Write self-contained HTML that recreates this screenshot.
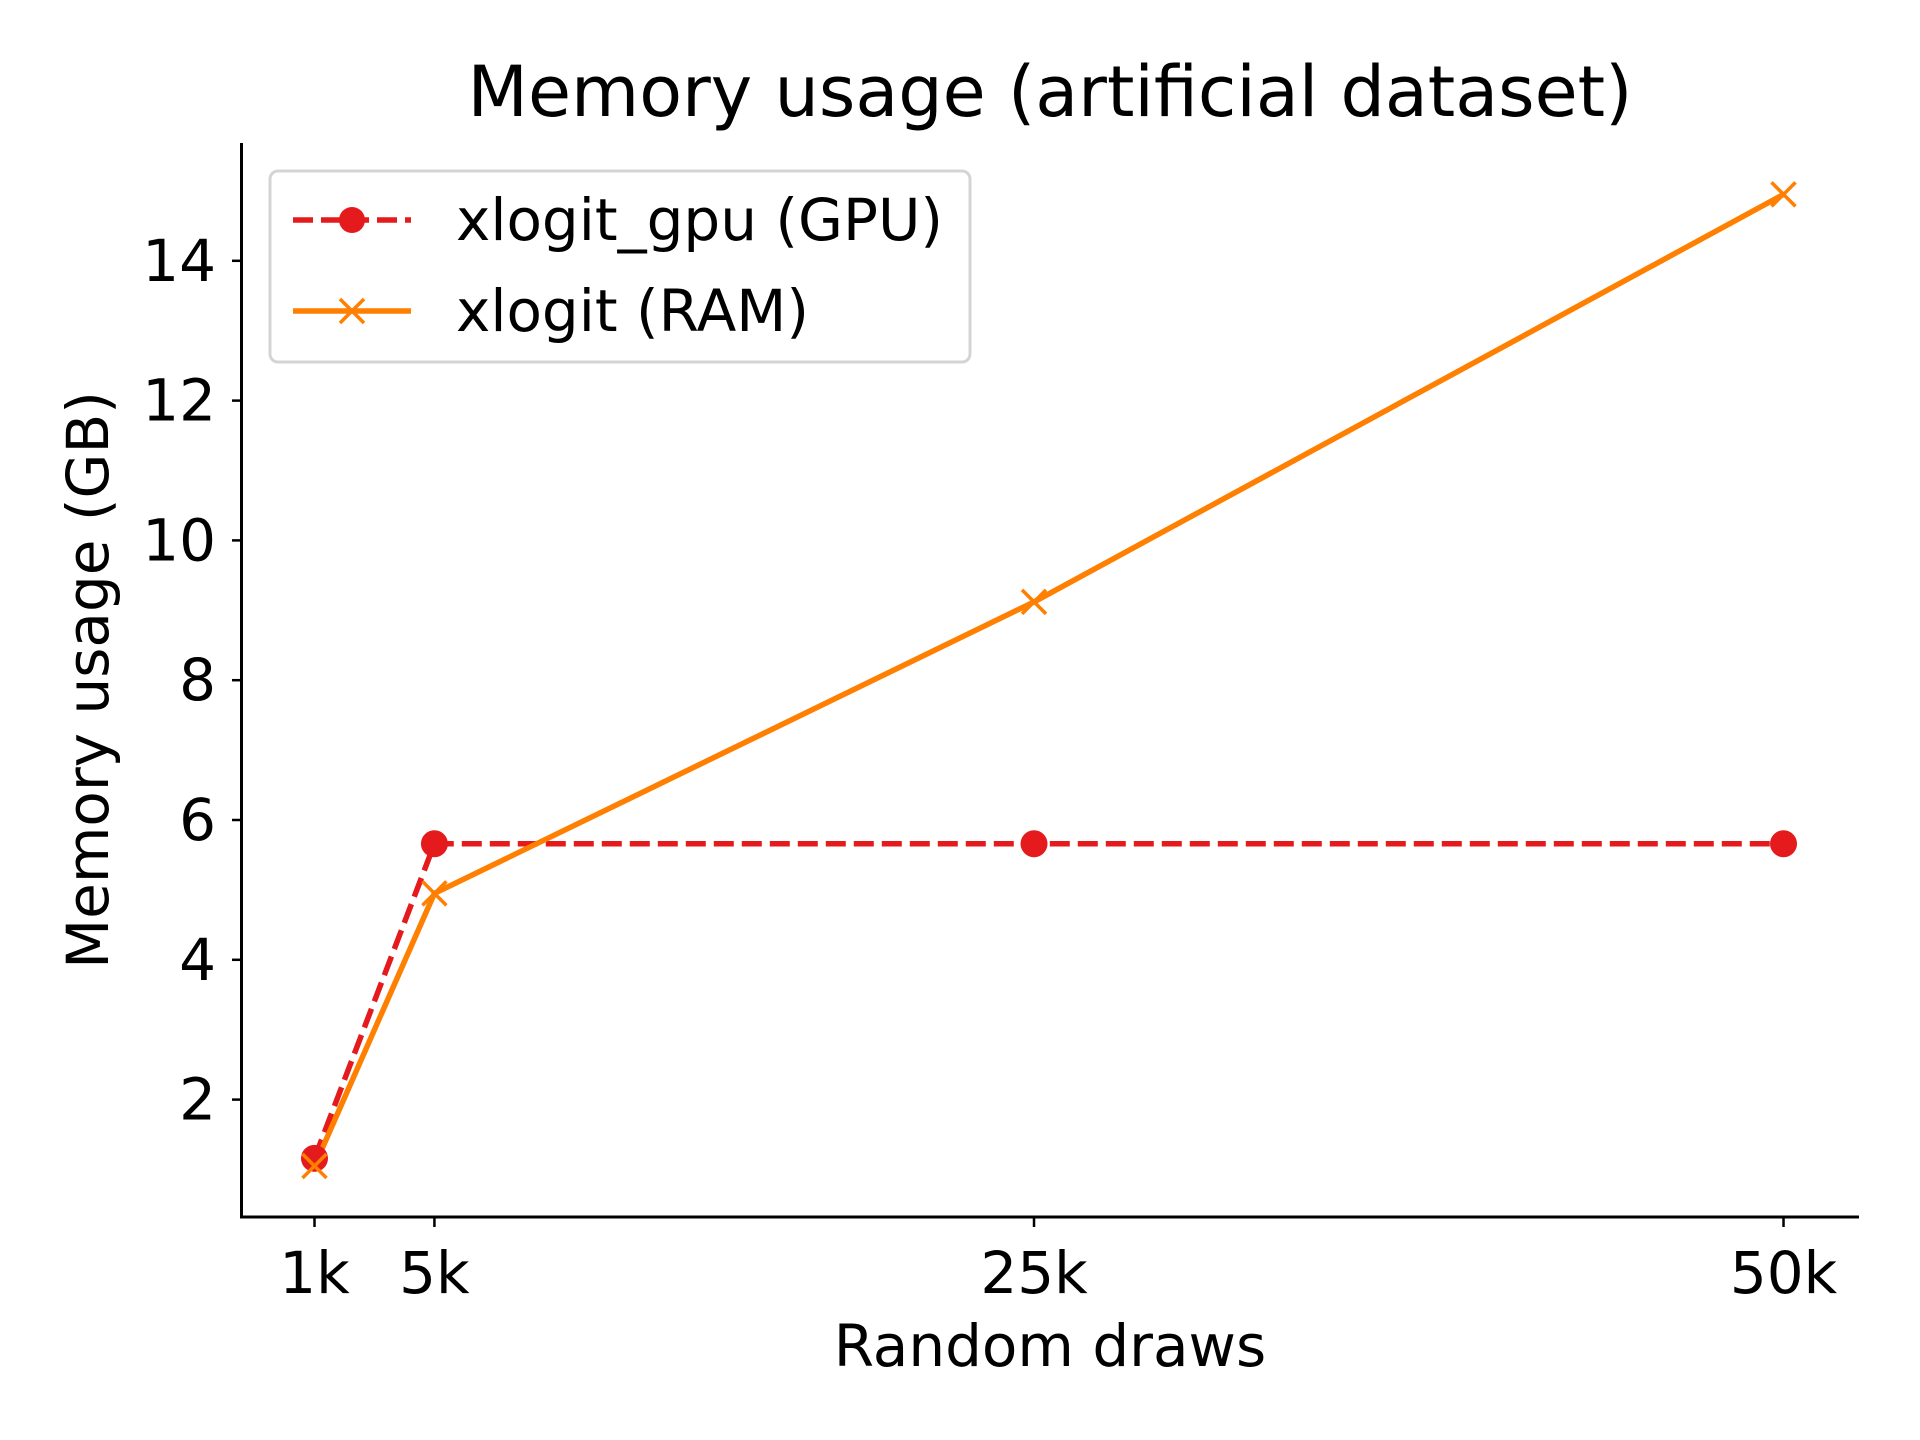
<!DOCTYPE html>
<html><head><meta charset="utf-8">
<style>
html,body{margin:0;padding:0;background:#fff;}
svg{display:block;font-family:"DejaVu Sans","Liberation Sans",sans-serif;}
</style></head>
<body>
<svg id="chart" width="1920" height="1440" viewBox="0 0 1920 1440" xmlns="http://www.w3.org/2000/svg">
<rect width="1920" height="1440" fill="#fff"/>
<text x="1050" y="92" font-size="70" text-anchor="middle" dominant-baseline="central">Memory usage (artificial dataset)</text>
<text x="1050" y="1346" font-size="58" text-anchor="middle" dominant-baseline="central">Random draws</text>
<text x="88" y="680" font-size="58" text-anchor="middle" dominant-baseline="central" transform="rotate(-90 88 680)">Memory usage (GB)</text>
<g id="plot"></g>
<line x1="241.5" y1="143" x2="241.5" y2="1218.5" stroke="#000" stroke-width="3"/>
<line x1="240" y1="1217" x2="1859" y2="1217" stroke="#000" stroke-width="3"/>
<g>
<rect x="270" y="171" width="700" height="191" rx="8" fill="#fff" fill-opacity="0.8" stroke="#d4d4d4" stroke-width="3"/>
<g>
<line x1="293" y1="220" x2="411" y2="220" stroke="#e41a1c" stroke-width="5.5" stroke-dasharray="20,8"/>
<circle cx="352" cy="220" r="13" fill="#e41a1c"/>
<text x="456" y="220" font-size="58" dominant-baseline="central">xlogit_gpu (GPU)</text>
</g>
<g>
<line x1="293" y1="311" x2="411" y2="311" stroke="#ff7f00" stroke-width="5.5"/>
<path d="M340 299 L364 323 M340 323 L364 299" stroke="#ff7f00" stroke-width="3.5"/>
<text x="456" y="311" font-size="58" dominant-baseline="central">xlogit (RAM)</text>
</g>
</g>
</svg>
<script>
const categories = [1, 5, 25, 50];
const xTickLabels = ["1k", "5k", "25k", "50k"];
const gpuValues = [1.16, 5.66, 5.66, 5.66];
const ramValues = [1.05, 4.95, 9.12, 14.95];
const yTicks = [2, 4, 6, 8, 10, 12, 14];

const NS = "http://www.w3.org/2000/svg";
const plot = document.getElementById("plot");
function xScale(k){ return 314.5 + (k - 1) * 29.98; }
function yScale(v){ return 1239.4 - v * 69.9; }
function mk(tag, attrs){ const e = document.createElementNS(NS, tag); for (const k in attrs) e.setAttribute(k, attrs[k]); plot.appendChild(e); return e; }

yTicks.forEach(function(v){
  const y = yScale(v);
  const t = mk("line", {x1: 232, y1: y, x2: 241.5, y2: y, stroke: "#000", "stroke-width": 2.5});
  
  
  const l = mk("text", {x: 216, y: y, "font-size": 58, "text-anchor": "end", "dominant-baseline": "central"});
  l.textContent = String(v);
  
  
});
categories.forEach(function(c, i){
  const x = xScale(c);
  const t = mk("line", {x1: x, y1: 1217, x2: x, y2: 1227, stroke: "#000", "stroke-width": 2.5});
  
  
  const l = mk("text", {x: x, y: 1273, "font-size": 58, "text-anchor": "middle", "dominant-baseline": "central"});
  l.textContent = xTickLabels[i];
  
  
});

const gpuPts = categories.map(function(c, i){ return xScale(c) + "," + yScale(gpuValues[i]); }).join(" ");
const gl = mk("polyline", {points: gpuPts, fill: "none", stroke: "#e41a1c", "stroke-width": 5.5, "stroke-dasharray": "20,8"});



const ramPts = categories.map(function(c, i){ return xScale(c) + "," + yScale(ramValues[i]); }).join(" ");
const rl = mk("polyline", {points: ramPts, fill: "none", stroke: "#ff7f00", "stroke-width": 5.5, "stroke-linejoin": "round"});



categories.forEach(function(c, i){
  const p = mk("circle", {cx: xScale(c), cy: yScale(gpuValues[i]), r: 13.5, fill: "#e41a1c"});
  
  
});
categories.forEach(function(c, i){
  const x = xScale(c), y = yScale(ramValues[i]), s = 12;
  const p = mk("path", {d: "M" + (x - s) + " " + (y - s) + " L" + (x + s) + " " + (y + s) + " M" + (x - s) + " " + (y + s) + " L" + (x + s) + " " + (y - s), stroke: "#ff7f00", "stroke-width": 3.5});
  
  
});
</script>
</body></html>
